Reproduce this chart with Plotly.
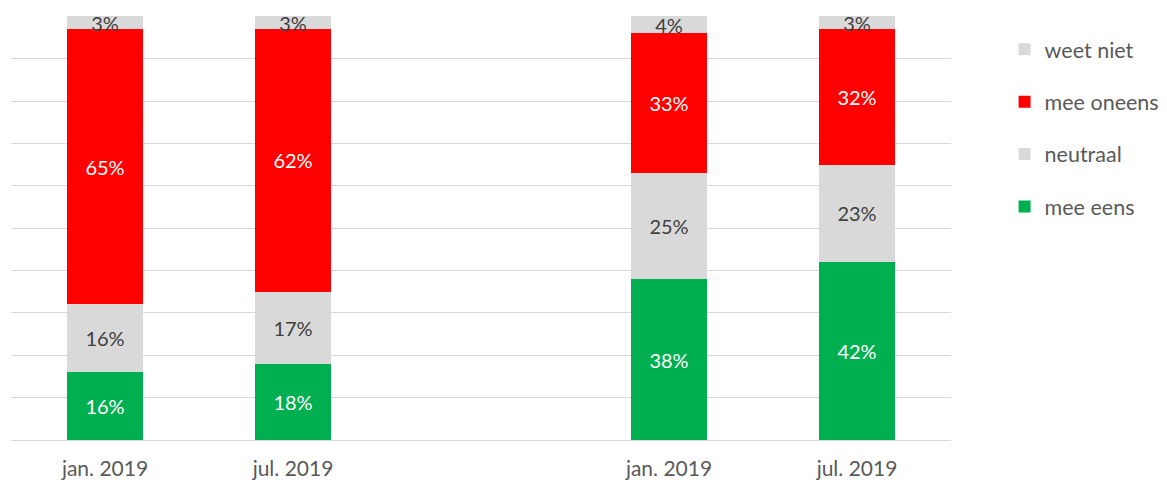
import plotly.graph_objects as go

x_pos = [0, 1, 3, 4]
tick_labels = ["jan. 2019", "jul. 2019", "jan. 2019", "jul. 2019"]

mee_eens = [16, 18, 38, 42]
neutraal = [16, 17, 25, 23]
mee_oneens = [65, 62, 33, 32]
weet_niet = [3, 3, 4, 3]

series = [
    ("mee eens", mee_eens, "#00B050", "#FFFFFF", 4),
    ("neutraal", neutraal, "#D9D9D9", "#404040", 3),
    ("mee oneens", mee_oneens, "#FF0000", "#FFFFFF", 2),
    ("weet niet", weet_niet, "#D9D9D9", "#404040", 1),
]

FONT = "Lato"

fig = go.Figure()
for name, vals, color, tcolor, rank in series:
    fig.add_trace(go.Bar(
        x=x_pos, y=vals, name=name, legendgroup=name, legendrank=rank,
        marker=dict(color=color, line=dict(width=0)),
        text=[f"{v}%" for v in vals],
        textposition="inside", insidetextanchor="middle",
        textfont=dict(family=FONT, size=20, color=tcolor),
        constraintext="none",
        width=0.4,
        hoverinfo="skip",
    ))

fig.update_layout(
    barmode="stack",
    width=1167, height=475,
    margin=dict(l=3, r=224, t=8, b=43, autoexpand=False),
    plot_bgcolor="white", paper_bgcolor="white",
    font=dict(family=FONT, size=21, color="#595959"),
    xaxis=dict(
        range=[-0.5, 4.5],
        tickvals=x_pos, ticktext=tick_labels,
        showgrid=False, zeroline=False,
        showline=True, linecolor="#D9D9D9", linewidth=1,
        ticks="outside", ticklen=10, tickcolor="rgba(0,0,0,0)",
        tickfont=dict(family=FONT, size=21, color="#595959"),
    ),
    yaxis=dict(
        range=[0, 100.1], dtick=10,
        showgrid=True, gridcolor="#D9D9D9", gridwidth=1,
        showticklabels=False, zeroline=False, ticks="",
    ),
    legend=dict(
        x=1.057, y=0.97, xanchor="left", yanchor="top",
        traceorder="grouped", tracegroupgap=21.5,
        font=dict(family=FONT, size=21.5, color="#595959"),
        itemwidth=30,
    ),
    showlegend=True,
)

fig.write_html("out.html")
